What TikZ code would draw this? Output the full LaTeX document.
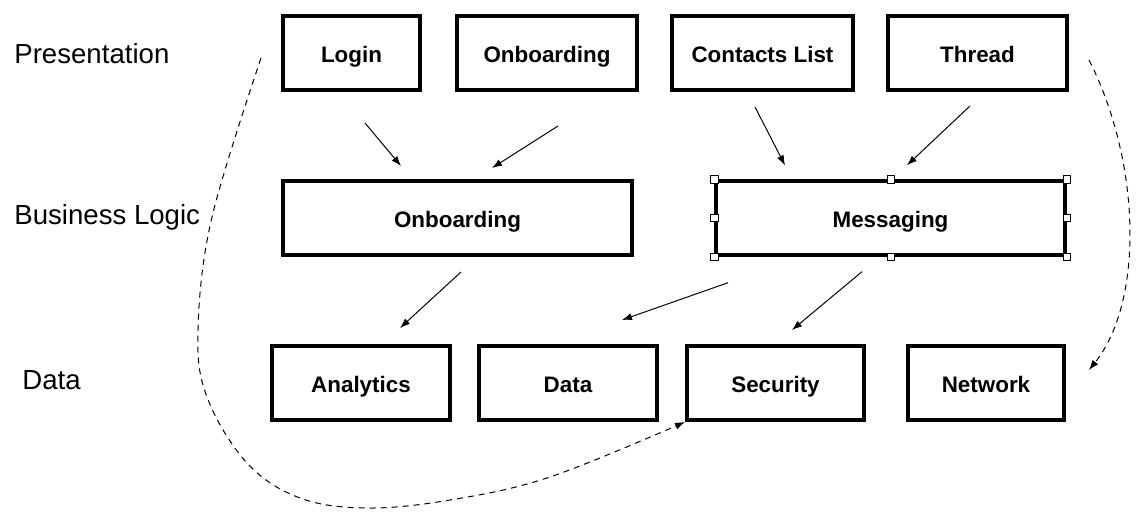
\documentclass[tikz,border=0pt]{standalone}
\usepackage{fontspec}
\setmainfont{Liberation Sans}
\usetikzlibrary{calc}
\usetikzlibrary{arrows.meta}

\begin{document}
\begin{tikzpicture}[x=0.5pt, y=-0.5pt, >={Latex[length=5pt,width=3.6pt]},
    layer/.style={anchor=west, inner sep=0pt, font=\fontsize{13.8}{16}\selectfont},
    module/.style={draw, line width=2pt, minimum height=37pt, text height=11pt, text depth=1.5pt,
      font=\fontsize{11.2}{13}\selectfont\bfseries},
    dep/.style={->, line width=0.5pt},
    flow/.style={->, line width=0.5pt, dash pattern=on 3pt off 2.5pt},
    handle/.style={draw, fill=white, line width=0.4pt, minimum size=3.6pt, inner sep=0pt}]
  \useasboundingbox (0,0) rectangle (1145,520);

  % Layers
  \node[layer] (pres) at (14,54) {Presentation};
  \node[layer] (biz) at (14,217) {Business Logic};
  \node[layer] (data) at (22,380) {Data};

  % Presentation modules
  \node[module, minimum width=68.5pt] (login) at (351.5,53) {Login};
  \node[module, minimum width=90pt] (onb) at (547,53) {Onboarding};
  \node[module, minimum width=90.5pt] (contacts) at (762.5,53) {Contacts List};
  \node[module, minimum width=89.5pt] (thread) at (977.5,53) {Thread};

  % Business logic modules
  \node[module, minimum width=174.5pt] (bon) at (457.5,218) {Onboarding};
  \node[module, minimum width=174.5pt, line width=1.7pt] (msg) at (890.5,218) {Messaging};
  \foreach \a [count=\i] in {north west,north,north east,east,south east,south,south west,west}
    \node[handle] (h\i) at (msg.\a) {};

  % Data modules
  \node[module, minimum width=89pt] (ana) at (361,383) {Analytics};
  \node[module, minimum width=89pt] (dat) at (568,383) {Data};
  \node[module, minimum width=88.5pt] (sec) at (775.5,383) {Security};
  \node[module, minimum width=78pt] (net) at (986,383) {Network};

  % Dependencies
  \draw[dep] ($(login.south)+(13.5,31)$) -- ($(bon.north)+(-56.5,-13)$);
  \draw[dep] ($(onb.south)+(11,34)$) -- ($(bon.north)+(34.5,-11)$);
  \draw[dep] ($(contacts.south)+(-7.5,15)$) -- ($(msg.north)+(-105.5,-14)$);
  \draw[dep] ($(thread.south)+(-7.5,14)$) -- ($(msg.north)+(16.5,-14)$);
  \draw[dep] ($(bon.south)+(3.5,15)$) -- ($(ana.north)+(39,-16)$);
  \draw[dep] ($(msg.south)+(-162.5,26)$) -- ($(dat.north)+(54,-24)$);
  \draw[dep] ($(msg.south)+(-28.5,15)$) -- ($(sec.north)+(16.5,-14)$);

  % Dashed flows
  \coordinate (lstart) at ($(login.west)+(-20,5)$);
  \coordinate (rstart) at ($(thread.east)+(20,7)$);
  \draw[flow] plot[smooth, tension=0.6] coordinates {(lstart) (212,217) (198,330) (207,397) (247,463) (300,498) (367,508) (450,500) (550,477) (sec.south west)};
  \draw[flow] (rstart) .. controls (1140,160) and (1145,300) .. ($(net.east)+(23,-13)$);
\end{tikzpicture}
\end{document}
